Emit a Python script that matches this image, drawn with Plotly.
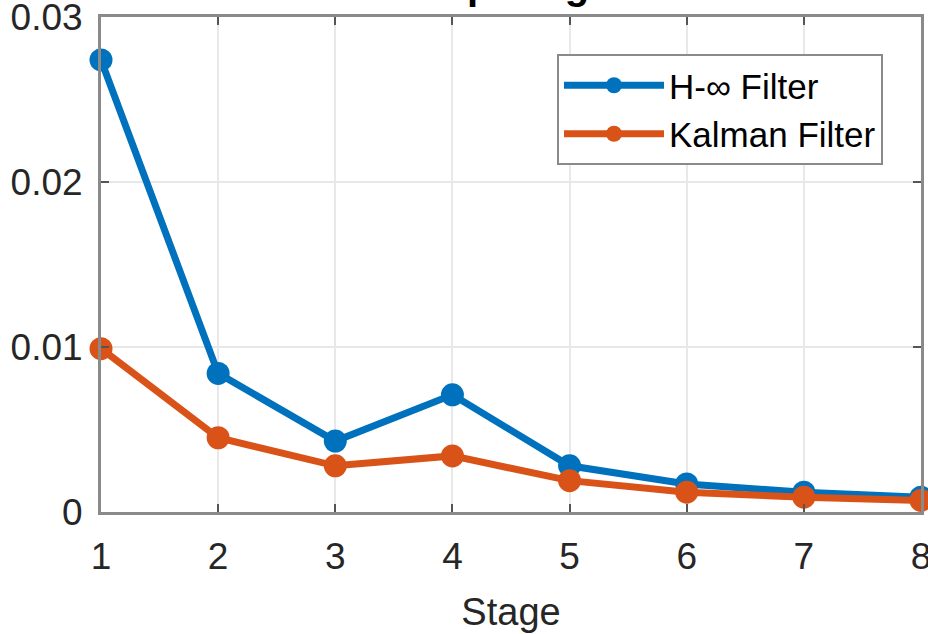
import plotly.graph_objects as go

# Filter error per stage
stages = [1, 2, 3, 4, 5, 6, 7, 8]
h_inf = [0.0274, 0.0084, 0.0043, 0.0071, 0.0028, 0.0017, 0.0012, 0.0009]
kalman = [0.0099, 0.0045, 0.0028, 0.0034, 0.0019, 0.0012, 0.0009, 0.0007]
y_ticks = [0, 0.01, 0.02, 0.03]
y_tick_text = ["0", "0.01", "0.02", "0.03"]

BLUE = "#0072BD"
ORANGE = "#D95319"
FONT = "Liberation Sans, Arial, sans-serif"
TEXT = "#262626"

fig = go.Figure()
fig.add_trace(go.Scatter(
    x=stages, y=h_inf, name="H-\u221e Filter", mode="lines+markers",
    line=dict(color=BLUE, width=7), marker=dict(color=BLUE, size=23),
    cliponaxis=False,
))
fig.add_trace(go.Scatter(
    x=stages, y=kalman, name="Kalman Filter", mode="lines+markers",
    line=dict(color=ORANGE, width=7), marker=dict(color=ORANGE, size=23),
    cliponaxis=False,
))

axis_common = dict(
    showline=True, linecolor="#8a8a8a", linewidth=3, mirror="ticks",
    ticks="inside", ticklen=8, tickwidth=2, tickcolor="#555555",
    showgrid=True, gridcolor="#e8e8e8", gridwidth=2, zeroline=False,
    tickfont=dict(family=FONT, size=37, color=TEXT),
    ticklabeloverflow="allow", automargin=False,
)

fig.update_xaxes(range=[1, 8], tickvals=stages, ticklabelstandoff=10,
                 title=dict(text="Stage", font=dict(family=FONT, size=38, color=TEXT), standoff=22),
                 **axis_common)
fig.update_yaxes(range=[0, 0.03], tickvals=y_ticks, ticktext=y_tick_text,
                 ticklabelstandoff=8, **axis_common)

# Title sits above the visible area; only its descenders reach into view
fig.add_annotation(
    text="<b>Comparing MSE</b>", xref="paper", yref="paper",
    x=(376 - 101) / 820, y=1 + 8 / 495, xanchor="left", yanchor="bottom",
    showarrow=False, font=dict(family=FONT, size=40, color="#000000"),
)

fig.update_layout(
    width=928, height=634,
    margin=dict(l=101, r=7, t=17, b=122, autoexpand=False),
    plot_bgcolor="white", paper_bgcolor="white",
    showlegend=True,
    legend=dict(
        x=(557 - 101) / 820, y=(512 - 54) / 495, xanchor="left", yanchor="top",
        bgcolor="white", bordercolor="#8a8a8a", borderwidth=2,
        font=dict(family=FONT, size=35, color="#000000"),
        itemwidth=100, tracegroupgap=0,
    ),
)

fig.write_html("out.html")
